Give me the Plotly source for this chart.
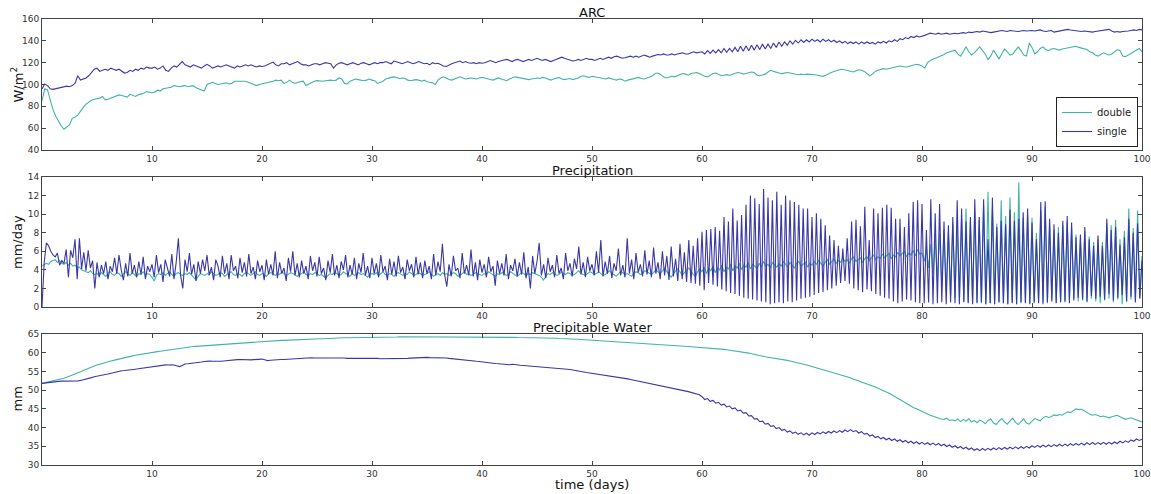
import numpy as np
import plotly.graph_objects as go

# ---------------- data ----------------
series_names = ["double", "single"]

arc_single = [
    96, 100.5, 99, 96, 95.5, 96, 96.5, 97.5, 98, 98.5, 98, 99, 101, 108, 104, 105, 106, 108, 111, 114,
    115, 112, 113, 114, 113, 115, 114, 113, 114, 112, 110.5, 111, 113, 112, 114, 113, 115, 114, 116, 115,
    115, 116, 114, 115, 117, 113, 112, 115, 117, 116, 119, 121, 118, 117, 116, 118, 117, 116, 115, 117,
    118.5, 117, 115, 116, 117, 116, 117, 118, 117, 116, 115, 117, 116, 117, 118, 117, 118, 117, 116, 117,
    116.5, 117, 118, 119, 120.5, 118, 117, 119, 119, 120, 118, 119, 120, 121, 119, 118, 118, 117, 118, 119,
    119, 118, 119, 120, 119.5, 119, 115, 118, 119.5, 120, 119, 118, 119, 120, 119, 118, 119.5, 120, 119, 118,
    119, 120, 119, 120, 120, 121, 120, 119, 121.5, 121, 120, 119, 120, 121, 120, 119, 120, 121, 120, 119,
    119.5, 118, 120, 119, 119.5, 118, 117, 116.5, 118, 119, 120, 121, 121.5, 120, 121, 120, 119.5, 120, 119, 120,
    119.5, 120, 121, 122, 121, 120, 121, 122, 122.5, 123, 122, 121, 122.5, 123, 122, 121, 122, 123, 122, 123,
    124, 123, 122, 123, 122, 121, 122, 123, 124, 125, 124, 123, 122, 121.5, 122, 123, 122, 123, 124, 123,
    123, 122, 123, 124, 123, 124, 125, 124, 125.5, 126, 125, 124, 124.5, 125, 126, 125, 126, 125, 126, 127,
    126, 125, 126, 127, 127.5, 127, 128, 127, 127, 128, 127, 128, 128.5, 129, 128, 128, 129, 130, 129, 129.5,
    130, 128, 131, 128.5, 131.5, 129, 132, 129, 133, 129.5, 133, 130, 134, 130, 135, 130.5, 135.5, 131, 136, 131.5,
    136.5, 132, 137, 132.5, 137, 133, 138, 134, 139, 135, 139, 136, 140, 137, 140.5, 138, 141, 138.5, 141, 139,
    141.5, 139.5, 141, 139, 141.5, 139.5, 141, 139, 140.5, 138.5, 140, 138, 139.5, 137.5, 139, 137.5, 139, 137, 139, 137.5,
    139, 137.5, 138.5, 137, 139, 138, 139.5, 138, 140, 139, 141, 139.5, 142, 141, 143, 142, 144, 143, 144.5, 143.5,
    144, 145, 146, 147, 146.5, 146, 147, 146, 146.5, 147, 146, 146.5, 147, 146.5, 147, 147.5, 147, 148, 147.5, 148,
    148.5, 148, 149, 148.5, 148, 147.5, 148, 148.5, 149, 149.5, 149, 148.5, 149.5, 149, 149, 148.5, 149, 149.5, 149, 149.5,
    149.5, 149, 149.5, 150, 149, 148.5, 149, 149.5, 148, 148.5, 149, 149.5, 150, 150.5, 150, 149.5, 149, 148.5, 148.5, 149,
    148.5, 148, 148, 148.5, 149, 149, 149.5, 150, 150.5, 149, 148, 148.5, 148, 148.5, 148.5, 149, 149.5, 150, 149.5, 150.5,
    150,
]

arc_double = [
    85, 96, 95, 85, 77, 71, 66, 62, 59, 61, 63, 69, 70, 72, 76, 79, 82, 84, 85.5, 86.5,
    87, 87.5, 89, 86, 86.5, 87.5, 88.5, 89.5, 90.5, 90, 89, 88.5, 91, 90, 89, 90.5, 91, 92, 93.5, 93,
    92.5, 93, 95, 94, 96, 96.5, 97, 97.5, 99, 98.5, 98, 98.5, 99, 98, 98.5, 99, 97, 96, 94.5, 94,
    100, 101, 102, 101, 100, 100.5, 101, 101.5, 100.5, 101, 103, 103, 103, 102.5, 103, 102, 101, 100, 99, 100,
    100.5, 101.5, 102, 102.5, 103, 104, 103.5, 104, 101, 102, 104, 102, 101, 102, 102.5, 103, 99, 100.5, 102, 103,
    103.5, 103, 103, 103.5, 104, 104, 103.5, 104, 106, 105, 101, 100.5, 103, 104, 105, 104.5, 104, 103.5, 104, 105,
    104, 103.5, 101, 102, 103, 105, 106, 106.5, 107, 106, 105.5, 106, 105.5, 104, 103.5, 104, 104.5, 104, 103, 104,
    102.5, 102, 101.5, 100, 104, 106, 107, 106, 104.5, 104, 105, 106, 107, 106, 105, 105.5, 106, 105.5, 105, 106,
    106.5, 106, 105, 104.5, 104, 105, 106, 105, 104, 103.5, 105, 106, 107, 106.5, 106, 105.5, 105, 104.5, 105, 105.5,
    106, 105.5, 106.5, 106, 105, 104, 105, 106, 106.5, 105, 104.5, 105, 105.5, 104.5, 105, 106, 107.5, 108, 107, 106.5,
    107.5, 107, 106.5, 106, 105.5, 105, 106, 105, 104.5, 104, 105, 104.5, 103, 104, 104.5, 105, 106, 106.5, 105.5, 105,
    106, 107, 108, 110, 110.5, 109, 107, 106, 106.5, 107.5, 107, 108, 109, 110, 109.5, 108.5, 110, 110.5, 111, 110,
    108.5, 107.5, 107, 108.5, 110, 110.5, 109.5, 108, 108.5, 109, 108.5, 109.5, 110, 111, 110.5, 109.5, 110, 111, 111.5, 111,
    108.5, 108, 108.5, 109.5, 111.5, 113, 112, 111, 110.5, 110, 110.5, 111, 110.5, 110, 109.5, 109, 109.5, 109, 109.5, 109.5,
    109.5, 109, 108.5, 108, 107.5, 108.5, 110, 111, 112, 113, 113.5, 114, 113.5, 112.5, 112, 111.5, 112.5, 113.5, 113, 112,
    110, 108, 109.5, 112, 113, 114, 114.5, 114, 114.5, 115, 115.5, 116.5, 117, 116.5, 116, 116.5, 117, 118, 118.5, 118,
    117, 115, 120, 122, 123, 124, 125, 126, 127.5, 129, 130, 131, 131.5, 128, 126, 130, 134.5, 130, 127, 129,
    132, 134.5, 131, 128, 123, 126, 131.5, 127, 123.5, 128, 132.5, 130, 127, 128, 131, 134.5, 131, 127, 126, 138,
    134, 128, 130, 133, 134.5, 132, 131, 132.5, 133, 132, 131.5, 132.5, 133, 133.5, 134, 134.5, 135, 134, 133.5, 133,
    132, 130, 129, 127, 126, 127.5, 129, 128, 127, 128, 130, 132, 131, 126, 125.5, 127, 129, 130, 131.5, 133,
    130,
]

pcp_single = [
    0, 4.8, 6.9, 6.6, 6.0, 5.6, 5.4, 5.8, 4.5, 5.0, 4.7, 6.2, 3.2, 6.1, 5.3, 7.3, 3.0, 7.4, 4.1, 5.9, 3.9, 6.1, 4.2, 5.0, 2.0,
    4.8, 3.2, 4.5, 3.6, 4.9, 3.0, 4.4, 3.8, 5.3, 3.6, 5.6, 4.0, 2.9, 4.7, 3.3, 5.8, 3.6, 4.5, 3.2, 4.9, 3.5, 5.4, 3.0, 4.4, 3.8,
    4.6, 3.2, 5.6, 3.7, 4.6, 2.7, 5.1, 4.2, 3.3, 5.7, 3.0, 4.8, 7.4, 3.4, 2.0, 5.1, 3.8, 5.8, 3.5, 4.6, 2.8, 4.9, 3.6, 5.1, 3.9,
    5.6, 3.4, 4.3, 2.9, 5.1, 4.4, 3.2, 5.5, 3.6, 4.7, 3.0, 5.6, 3.9, 4.4, 3.1, 5.3, 3.7, 4.8, 3.3, 5.7, 3.6, 4.3, 3.0, 5.0, 3.8,
    4.5, 2.9, 5.1, 3.5, 4.6, 3.4, 6.0, 3.1, 4.8, 3.6, 4.2, 2.8, 5.3, 3.8, 6.0, 3.4, 4.7, 3.2, 5.0, 3.6, 4.4, 3.0, 5.5, 3.9, 4.8,
    3.3, 5.4, 3.6, 4.2, 2.9, 5.0, 3.7, 5.7, 3.4, 4.5, 3.1, 4.9, 4.0, 5.6, 3.2, 4.5, 3.5, 5.3, 3.0, 4.7, 3.7, 5.8, 3.4, 4.4, 3.1,
    5.3, 3.6, 4.7, 3.2, 5.6, 3.8, 4.4, 2.9, 5.2, 3.5, 4.9, 3.3, 5.5, 3.7, 4.3, 3.0, 5.1, 3.9, 4.6, 3.2, 5.4, 3.5, 4.8, 3.1, 5.0,
    3.6, 4.4, 3.0, 5.7, 3.4, 4.9, 3.8, 6.8, 3.5, 2.2, 4.6, 3.3, 5.5, 3.9, 4.2, 3.1, 5.8, 3.6, 4.5, 3.4, 6.2, 3.3, 4.8, 2.9, 5.1,
    3.7, 4.6, 3.2, 5.4, 3.8, 4.4, 2.3, 5.0, 3.6, 4.7, 3.4, 5.7, 3.0, 4.5, 3.9, 5.2, 3.3, 4.8, 3.5, 5.9, 3.1, 4.3, 2.0, 5.5, 3.6,
    4.9, 6.9, 3.4, 4.6, 3.1, 5.3, 3.8, 4.5, 3.2, 5.6, 3.6, 4.2, 3.0, 5.8, 3.9, 4.7, 3.3, 5.2, 4.1, 6.5, 3.5, 4.8, 3.2, 5.4, 3.9,
    4.6, 3.4, 6.0, 3.7, 7.2, 3.3, 4.9, 3.6, 5.5, 3.1, 4.7, 3.9, 6.3, 3.4, 4.5, 3.2, 7.4, 3.6, 5.1, 3.0, 5.8, 3.7, 4.6, 3.3, 6.1,
    3.5, 5.0, 3.2, 6.4, 3.6, 4.8, 3.0, 6.0, 3.4, 5.5, 2.9, 6.5, 3.3, 5.2, 2.8, 6.8, 3.0, 5.9, 2.7, 7.2, 2.6, 6.6, 2.5, 7.4, 2.3,
    8.1, 1.8, 8.3, 2.6, 8.4, 2.4, 8.6, 2.2, 8.2, 1.9, 9.7, 1.7, 9.2, 1.5, 10.6, 1.4, 9.3, 1.2, 9.9, 1.0, 11.0, 0.9, 12.0, 0.8, 11.7,
    0.7, 11.1, 0.6, 12.7, 0.5, 11.8, 0.3, 11.5, 0.4, 12.4, 0.5, 11.0, 0.4, 12.0, 0.6, 11.5, 0.5, 11.3, 0.7, 11.0, 0.9, 10.6, 1.0, 10.6, 1.1,
    9.7, 1.3, 10.1, 1.5, 9.5, 1.6, 8.8, 1.8, 7.7, 2.0, 7.2, 2.3, 6.6, 2.6, 6.3, 2.8, 7.4, 2.5, 9.2, 2.0, 9.4, 1.8, 8.7, 1.6, 10.8,
    1.9, 7.2, 1.7, 10.6, 1.4, 10.1, 1.2, 10.7, 1.0, 11.0, 0.9, 10.7, 0.6, 9.5, 0.4, 9.5, 0.6, 8.6, 0.8, 10.1, 0.7, 11.3, 0.5, 11.5, 0.4,
    11.1, 0.4, 8.3, 0.5, 11.6, 0.3, 10.1, 0.4, 11.1, 0.5, 9.2, 0.3, 8.8, 0.5, 9.7, 0.4, 11.5, 0.3, 10.6, 0.5, 9.2, 0.4, 9.7, 0.3, 11.6,
    0.4, 9.7, 0.5, 11.6, 0.3, 7.3, 0.4, 11.8, 0.3, 8.6, 0.5, 9.3, 0.4, 8.9, 0.3, 10.5, 0.4, 9.3, 0.3, 9.5, 0.5, 10.2, 0.4, 10.6, 0.3,
    9.1, 0.5, 7.3, 0.4, 11.3, 0.3, 11.4, 0.5, 9.5, 0.6, 8.9, 0.4, 8.0, 0.5, 9.3, 0.6, 9.8, 0.4, 9.1, 0.7, 7.5, 1.0, 7.8, 0.8, 8.6,
    0.6, 7.3, 1.2, 6.6, 0.9, 7.7, 1.1, 6.6, 0.8, 9.5, 1.4, 8.3, 0.7, 8.6, 1.0, 6.7, 1.3, 7.5, 0.6, 9.5, 1.1, 8.0, 0.5, 9.0, 0.9,
    5.0,
]

pcp_double = [
    4.4, 4.6, 4.7, 4.6, 4.9, 5.0, 5.1, 4.8, 5.0, 4.7, 4.6, 4.8, 4.5, 4.7, 4.4, 4.5, 4.2, 4.3, 4.0, 3.9, 3.8, 3.7, 3.9, 3.6, 3.5,
    3.6, 3.4, 3.7, 3.5, 3.3, 3.6, 3.8, 3.5, 3.4, 3.7, 3.6, 3.3, 3.5, 3.8, 3.6, 3.4, 3.7, 3.5, 3.3, 3.6, 3.5, 3.8, 3.4, 3.6, 3.5,
    3.2, 2.8, 3.4, 3.6, 3.5, 3.7, 3.4, 3.6, 3.8, 3.5, 3.3, 3.6, 3.7, 3.5, 3.4, 3.6, 3.5, 3.7, 3.4, 3.2, 2.9, 3.3, 3.6, 3.5, 3.4,
    3.6, 3.5, 3.8, 3.6, 3.4, 3.5, 3.7, 3.6, 3.3, 3.5, 3.7, 3.8, 3.5, 3.4, 3.6, 3.5, 3.3, 3.6, 3.7, 3.5, 3.4, 3.6, 3.8, 3.5, 3.4,
    3.6, 3.5, 3.3, 3.6, 3.7, 3.5, 3.4, 3.6, 3.5, 3.8, 3.6, 3.4, 3.5, 3.7, 3.6, 3.4, 3.3, 3.5, 3.6, 3.8, 3.5, 3.4, 3.6, 3.5, 3.7,
    3.6, 3.4, 3.5, 3.3, 3.1, 3.4, 3.6, 3.5, 3.7, 3.6, 3.4, 3.5, 3.8, 3.6, 3.5, 3.3, 3.6, 3.4, 3.5, 3.7, 3.5, 3.6, 3.4, 3.2, 3.5,
    3.6, 3.5, 3.7, 3.4, 3.6, 3.8, 3.5, 3.4, 3.6, 3.5, 3.3, 3.6, 3.7, 3.5, 3.4, 3.6, 3.5, 3.8, 3.6, 3.4, 3.5, 3.7, 3.6, 3.4, 3.5,
    3.6, 3.8, 3.5, 3.3, 3.5, 3.6, 3.4, 3.7, 3.5, 3.6, 3.4, 3.5, 3.7, 3.6, 3.3, 3.4, 3.6, 3.8, 3.5, 3.6, 3.4, 3.5, 3.7, 3.6, 3.5,
    3.4, 3.6, 3.5, 3.8, 3.6, 3.4, 3.3, 3.6, 3.5, 3.7, 3.6, 3.4, 3.5, 3.8, 3.6, 3.5, 3.3, 3.5, 3.7, 3.6, 3.4, 3.6, 3.5, 3.7, 3.6,
    3.5, 3.4, 3.2, 2.9, 3.3, 3.6, 3.5, 3.7, 3.6, 3.4, 3.5, 3.8, 3.6, 3.5, 3.7, 3.6, 3.4, 3.5, 3.7, 3.9, 3.6, 3.5, 3.4, 3.6, 3.8,
    3.7, 3.5, 3.6, 3.8, 3.6, 3.4, 3.5, 3.7, 3.9, 3.6, 3.5, 3.3, 3.6, 3.8, 3.7, 3.5, 3.6, 3.4, 3.3, 3.6, 3.8, 3.7, 3.5, 3.6, 3.9,
    3.8, 3.6, 3.5, 3.7, 4.0, 3.8, 3.6, 3.9, 4.2, 3.8, 3.5, 3.2, 3.6, 3.9, 4.1, 3.8, 3.4, 3.7, 4.0, 4.2, 3.9, 3.5, 3.3, 3.8, 4.1,
    3.8, 4.3, 3.6, 4.1, 3.9, 4.4, 3.7, 4.2, 4.0, 4.5, 3.8, 4.3, 4.1, 4.6, 3.9, 4.4, 4.2, 4.7, 4.0, 4.5, 4.3, 4.8, 4.1, 4.6, 4.4,
    4.2, 4.7, 4.3, 4.9, 4.4, 4.6, 4.2, 4.8, 4.5, 4.3, 4.7, 4.4, 4.9, 4.6, 4.3, 4.8, 4.5, 4.2, 4.7, 4.9, 4.4, 4.6, 4.8, 4.3, 4.7,
    4.5, 4.9, 4.6, 5.0, 4.7, 4.4, 4.8, 5.1, 4.6, 4.9, 5.2, 4.7, 5.0, 4.8, 5.3, 4.9, 5.1, 4.7, 5.2, 5.4, 4.9, 5.1, 5.3, 4.8, 5.2,
    5.4, 5.0, 5.3, 5.6, 5.1, 5.4, 5.2, 5.7, 5.3, 5.5, 5.8, 5.2, 5.6, 5.4, 5.9, 5.5, 5.7, 6.0, 5.4, 5.8, 5.6, 6.1, 5.5, 6.2, 5.7,
    5.8, 4.9, 6.3, 4.2, 6.8, 3.6, 7.4, 2.9, 7.9, 2.2, 8.3, 1.6, 8.0, 1.2, 9.0, 0.9, 8.7, 0.7, 9.6, 0.6, 10.6, 0.5, 9.1, 0.4, 10.2,
    0.5, 9.4, 0.4, 10.9, 0.3, 12.4, 0.4, 10.5, 0.3, 9.0, 0.5, 11.5, 0.4, 9.8, 0.3, 11.8, 0.5, 10.2, 0.3, 13.4, 0.4, 9.6, 0.5, 10.0, 0.4,
    9.6, 0.4, 8.0, 0.6, 10.4, 0.5, 10.8, 0.4, 9.0, 0.7, 8.3, 0.5, 8.6, 0.6, 8.8, 0.5, 9.2, 0.8, 8.5, 0.9, 7.8, 0.6, 7.2, 0.7, 8.1,
    0.5, 7.6, 0.9, 7.0, 0.6, 7.3, 0.4, 7.0, 0.7, 9.0, 0.9, 8.8, 0.5, 9.4, 0.8, 7.3, 0.3, 8.2, 0.6, 10.6, 0.8, 8.5, 0.7, 10.4, 1.0,
    5.5,
]

pw_double = [
    51.8, 51.95, 52.1, 52.3, 52.5, 52.65, 52.8, 53.0, 53.2, 53.45, 53.7, 53.95, 54.2, 54.55, 54.9, 55.25, 55.6, 55.9, 56.15, 56.45,
    56.7, 56.95, 57.15, 57.4, 57.6, 57.8, 57.95, 58.15, 58.3, 58.5, 58.65, 58.85, 59.0, 59.15, 59.3, 59.45, 59.6, 59.7, 59.85, 60.0,
    60.1, 60.2, 60.3, 60.4, 60.5, 60.65, 60.8, 60.95, 61.1, 61.2, 61.25, 61.35, 61.4, 61.5, 61.55, 61.65, 61.7, 61.75, 61.8, 61.85,
    61.9, 61.95, 62.05, 62.15, 62.2, 62.25, 62.3, 62.35, 62.4, 62.5, 62.55, 62.65, 62.7, 62.75, 62.8, 62.85, 62.9, 62.95, 63.0, 63.05,
    63.1, 63.1, 63.15, 63.15, 63.2, 63.25, 63.25, 63.3, 63.3, 63.35, 63.4, 63.45, 63.5, 63.5, 63.55, 63.55, 63.6, 63.6, 63.65, 63.7,
    63.7, 63.75, 63.75, 63.8, 63.8, 63.85, 63.85, 63.9, 63.95, 63.95, 64.0, 64.0, 64.0, 64.05, 64.05, 64.1, 64.1, 64.15, 64.15, 64.2,
    64.2, 64.2, 64.15, 64.1, 64.1, 64.05, 64.1, 64.1, 64.15, 64.2, 64.25, 64.25, 64.3, 64.3, 64.3, 64.3, 64.3, 64.3, 64.3, 64.3,
    64.3, 64.25, 64.25, 64.2, 64.2, 64.2, 64.15, 64.15, 64.15, 64.1, 64.1, 64.1, 64.1, 64.1, 64.1, 64.1, 64.1, 64.1, 64.1, 64.1,
    64.1, 64.1, 64.1, 64.1, 64.1, 64.1, 64.1, 64.15, 64.15, 64.15, 64.1, 64.1, 64.1, 64.05, 64.05, 64.0, 64.0, 64.0, 64.0, 64.0,
    63.95, 63.95, 63.9, 63.9, 63.9, 63.9, 63.85, 63.85, 63.8, 63.8, 63.75, 63.7, 63.7, 63.65, 63.6, 63.6, 63.55, 63.5, 63.45, 63.45,
    63.4, 63.35, 63.3, 63.3, 63.25, 63.2, 63.2, 63.15, 63.1, 63.1, 63.05, 63.0, 62.9, 62.8, 62.7, 62.65, 62.6, 62.55, 62.5, 62.45,
    62.4, 62.35, 62.3, 62.25, 62.2, 62.15, 62.1, 62.05, 62.0, 61.95, 61.9, 61.85, 61.8, 61.75, 61.7, 61.65, 61.6, 61.55, 61.5, 61.45,
    61.4, 61.35, 61.3, 61.3, 61.25, 61.2, 61.15, 61.0, 60.9, 60.8, 60.7, 60.6, 60.5, 60.4, 60.3, 60.2, 60.05, 59.9, 59.7, 59.5,
    59.3, 59.15, 59.0, 58.9, 58.8, 58.7, 58.6, 58.5, 58.4, 58.25, 58.1, 57.95, 57.8, 57.65, 57.5, 57.3, 57.1, 56.9, 56.7, 56.5,
    56.3, 56.1, 55.9, 55.7, 55.5, 55.3, 55.1, 54.9, 54.7, 54.5, 54.25, 54.0, 53.75, 53.5, 53.25, 53.0, 52.75, 52.5, 52.25, 52.0,
    51.75, 51.45, 51.15, 50.85, 50.5, 50.2, 49.85, 49.5, 49.15, 48.75, 48.3, 47.85, 47.4, 46.9, 46.5, 46.1, 45.7, 45.3, 45.0, 44.6,
    44.2, 43.9, 43.6, 43.3, 43.0, 42.8, 42.6, 42.3, 42.2, 42.5, 41.9, 42.1, 41.8, 42.3, 41.6, 42.2, 41.7, 42.4, 41.5, 41.9,
    41.3, 42.0, 41.6, 41.0, 41.9, 42.3, 41.2, 40.8, 41.7, 42.4, 41.5, 40.9, 41.8, 42.5, 41.4, 40.8, 41.6, 42.3, 41.2, 40.9,
    41.7, 42.4, 42.1, 41.8, 42.6, 43.0, 42.7, 42.9, 43.4, 43.2, 43.5, 43.3, 43.8, 44.2, 44.0, 44.6, 45.0, 44.8, 44.9, 44.5,
    44.0, 43.6, 43.3, 43.5, 43.2, 42.9, 43.1, 42.8, 42.6, 42.9, 43.2, 43.3, 42.9, 42.5, 42.2, 42.4, 42.6, 42.3, 42.0, 41.8,
    41.5,
]

pw_single = [
    51.8, 51.9, 52.0, 52.2, 52.3, 52.3, 52.35, 52.4, 52.4, 52.35, 52.4, 52.4, 52.4, 52.45, 52.6, 52.75, 52.9, 53.15, 53.35, 53.6,
    53.8, 53.9, 54.05, 54.2, 54.3, 54.5, 54.7, 54.9, 55.1, 55.2, 55.25, 55.3, 55.4, 55.5, 55.6, 55.7, 55.8, 55.95, 56.1, 56.2,
    56.3, 56.4, 56.5, 56.6, 56.7, 56.75, 56.7, 56.8, 56.7, 56.5, 56.3, 56.6, 57.0, 57.05, 57.1, 57.15, 57.2, 57.35, 57.5, 57.65,
    57.8, 57.75, 57.7, 57.65, 57.6, 57.7, 57.8, 57.9, 58.0, 58.05, 58.1, 58.15, 58.2, 58.15, 58.1, 58.1, 58.1, 58.15, 58.2, 58.25,
    58.3, 58.1, 57.9, 58.0, 58.1, 58.1, 58.15, 58.2, 58.2, 58.25, 58.3, 58.35, 58.4, 58.5, 58.55, 58.6, 58.7, 58.7, 58.65, 58.6,
    58.6, 58.65, 58.7, 58.7, 58.7, 58.75, 58.8, 58.8, 58.8, 58.7, 58.6, 58.5, 58.5, 58.55, 58.6, 58.65, 58.7, 58.7, 58.7, 58.7,
    58.7, 58.6, 58.5, 58.4, 58.4, 58.35, 58.3, 58.3, 58.3, 58.35, 58.4, 58.45, 58.5, 58.5, 58.55, 58.6, 58.7, 58.8, 58.85, 58.8,
    58.75, 58.7, 58.7, 58.75, 58.8, 58.75, 58.7, 58.6, 58.5, 58.4, 58.3, 58.25, 58.2, 58.1, 58.0, 57.95, 57.9, 57.8, 57.7, 57.65,
    57.6, 57.5, 57.4, 57.3, 57.2, 57.1, 57.0, 56.95, 56.9, 56.85, 56.8, 56.9, 56.75, 56.7, 56.65, 56.6, 56.55, 56.5, 56.45, 56.4,
    56.35, 56.3, 56.25, 56.2, 56.15, 56.1, 56.05, 56.0, 55.95, 55.85, 55.7, 55.6, 55.5, 55.4, 55.3, 55.2, 55.0, 54.85, 54.7, 54.6,
    54.5, 54.4, 54.25, 54.1, 54.0, 53.9, 53.8, 53.7, 53.6, 53.5, 53.4, 53.25, 53.1, 53.0, 52.85, 52.7, 52.55, 52.4, 52.3, 52.15,
    52.0, 51.85, 51.7, 51.55, 51.4, 51.25, 51.1, 50.9, 50.7, 50.55, 50.4, 50.25, 50.1, 49.9, 49.75, 49.6, 49.4, 49.2, 49.0, 48.75,
    48.25, 47.5, 47.75, 47.0, 47.25, 46.5, 46.75, 46.0, 46.25, 45.5, 45.75, 45.0, 45.25, 44.45, 44.65, 43.85, 44.0, 43.1, 43.2, 42.3,
    42.4, 41.55, 41.7, 40.9, 41.1, 40.3, 40.5, 39.75, 40.0, 39.25, 39.5, 38.8, 39.1, 38.45, 38.8, 38.2, 38.6, 38.05, 38.5, 37.95,
    38.6, 38.15, 38.7, 38.3, 38.85, 38.4, 38.95, 38.55, 39.1, 38.65, 39.2, 38.75, 39.35, 38.9, 39.45, 38.9, 39.2, 38.55, 38.9, 38.25,
    38.45, 37.75, 38.05, 37.35, 37.65, 37.0, 37.35, 36.75, 37.15, 36.55, 36.95, 36.35, 36.75, 36.15, 36.55, 35.95, 36.35, 35.75, 36.2, 35.6,
    36.05, 35.5, 35.95, 35.4, 35.85, 35.3, 35.75, 35.15, 35.55, 34.95, 35.35, 34.75, 35.15, 34.55, 34.95, 34.35, 34.75, 34.15, 34.55, 33.95,
    34.35, 33.85, 34.4, 33.9, 34.45, 34.0, 34.55, 34.1, 34.65, 34.15, 34.7, 34.25, 34.75, 34.3, 34.85, 34.35, 34.9, 34.45, 35.0, 34.55,
    35.15, 34.7, 35.25, 34.75, 35.3, 34.85, 35.35, 34.9, 35.45, 35.0, 35.55, 35.05, 35.6, 35.15, 35.7, 35.25, 35.75, 35.3, 35.85, 35.35,
    35.95, 35.45, 36.0, 35.5, 36.0, 35.55, 36.05, 35.55, 36.05, 35.6, 36.15, 35.75, 36.35, 35.9, 36.45, 36.05, 36.7, 36.35, 36.95, 36.55,
    36.9,
]

panel_titles = ["ARC", "Precipitation", "Precipitable Water"]
y_titles = ["W/m<sup>2</sup>", "mm/day", "mm"]
x_title = "time (days)"
x_ticks = [10, 20, 30, 40, 50, 60, 70, 80, 90, 100]
y_ranges = [[40, 160], [0, 14], [30, 65]]
y_dticks = [20, 2, 5]

# ---------------- figure ----------------
def days(vals):
    return np.linspace(0, 100, len(vals))

COL_DOUBLE = "#40b4a6"
COL_SINGLE = "#3a38a6"
FONT = "DejaVu Sans"

W, H = 1151, 494
ML, MR, MT, MB = 42, 9, 19, 29
PW_, PH_ = W - ML - MR, H - MT - MB
panels_px = [(19, 150), (177, 307), (334, 465)]


def ypaper(py):
    return (H - MB - py) / PH_


def xpaper(px):
    return (px - ML) / PW_


y_domains = [[ypaper(b), ypaper(t)] for t, b in panels_px]

fig = go.Figure()
data = [(arc_double, arc_single), (pcp_double, pcp_single), (pw_double, pw_single)]
for i, (dbl, sgl) in enumerate(data):
    ax = "" if i == 0 else str(i + 1)
    fig.add_trace(go.Scatter(x=days(dbl), y=dbl, mode="lines", name=series_names[0],
                             line=dict(color=COL_DOUBLE, width=1.1),
                             xaxis="x" + ax, yaxis="y" + ax, showlegend=(i == 0)))
    fig.add_trace(go.Scatter(x=days(sgl), y=sgl, mode="lines", name=series_names[1],
                             line=dict(color=COL_SINGLE, width=1.1),
                             xaxis="x" + ax, yaxis="y" + ax, showlegend=(i == 0)))

layout = dict(
    width=W, height=H,
    margin=dict(l=ML, r=MR, t=MT, b=MB, autoexpand=False),
    paper_bgcolor="white", plot_bgcolor="white",
    font=dict(family=FONT, color="#333333"),
    showlegend=True,
    legend=dict(x=xpaper(1138), y=ypaper(147), xanchor="right", yanchor="bottom",
                bgcolor="white", bordercolor="#222222", borderwidth=1,
                font=dict(size=10, family=FONT, color="#222222"),
                tracegroupgap=0, itemwidth=30),
)
annotations = []
for i in range(3):
    ax = "" if i == 0 else str(i + 1)
    layout["xaxis" + ax] = dict(
        domain=[0, 1], range=[0, 100], anchor="y" + ax, automargin=False,
        tickvals=x_ticks, ticks="inside", ticklen=4, tickcolor="#444444",
        showline=True, linecolor="#444444", linewidth=1, mirror="allticks",
        showgrid=False, zeroline=False, ticklabeloverflow="allow",
        tickfont=dict(size=9, family=FONT, color="#333333"),
    )
    layout["yaxis" + ax] = dict(
        domain=y_domains[i], range=y_ranges[i], anchor="x" + ax, automargin=False,
        dtick=y_dticks[i], tick0=y_ranges[i][0], ticks="inside", ticklen=4, tickcolor="#444444",
        showline=True, linecolor="#444444", linewidth=1, mirror="allticks",
        showgrid=False, zeroline=False,
        tickfont=dict(size=9, family=FONT, color="#333333"),
    )
    t, b = panels_px[i]
    annotations.append(dict(text=panel_titles[i], x=0.5, y=ypaper(t - 7), xref="paper", yref="paper",
                            xanchor="center", yanchor="middle", showarrow=False, borderpad=0,
                            font=dict(size=13, family=FONT, color="#111111")))
    annotations.append(dict(text=y_titles[i], x=xpaper(17), y=ypaper((t + b) / 2), xref="paper", yref="paper",
                            xanchor="center", yanchor="middle", showarrow=False, borderpad=0, textangle=-90,
                            font=dict(size=13, family=FONT, color="#111111")))
annotations.append(dict(text=x_title, x=0.5, y=ypaper(485), xref="paper", yref="paper",
                        xanchor="center", yanchor="middle", showarrow=False, borderpad=0,
                        font=dict(size=13, family=FONT, color="#111111")))
layout["annotations"] = annotations
fig.update_layout(**layout)

fig.write_html(
    "out.html",
    config={"displayModeBar": False},
    post_script=(
        "document.body.style.margin='0px';"
        "document.body.style.overflow='hidden';"
        "document.documentElement.style.overflow='hidden';"
    ),
)
